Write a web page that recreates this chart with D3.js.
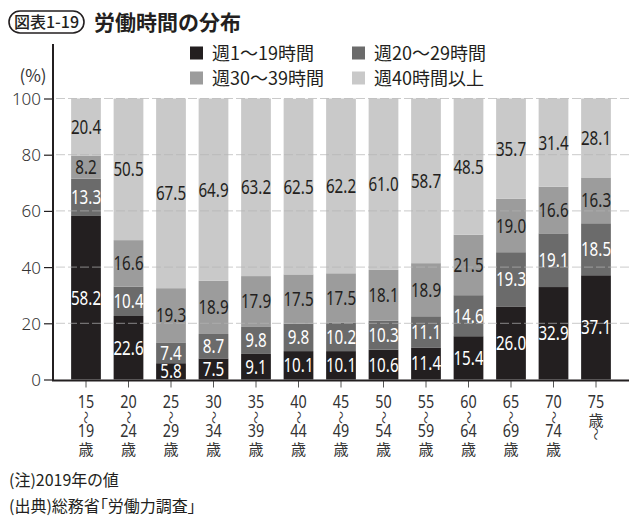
<!DOCTYPE html>
<html>
<head>
<meta charset="utf-8">
<script src="https://cdn.jsdelivr.net/npm/d3@7/dist/d3.min.js"></script>
<style>
  body { margin: 0; background: #fff; }
  svg { display: block; }
</style>
</head>
<body>
<svg width="640" height="524"></svg>
<script>
var svg = d3.select("svg");

// age groups (top line, bottom line)
var ageFrom = ["15", "20", "25", "30", "35", "40", "45", "50", "55", "60", "65", "70", "75"];
var ageTo   = ["19", "24", "29", "34", "39", "44", "49", "54", "59", "64", "69", "74", ""];

var seriesNames = ["週1〜19時間", "週20〜29時間", "週30〜39時間", "週40時間以上"];
var h1_19  = [58.2, 22.6, 5.8, 7.5, 9.1, 10.1, 10.1, 10.6, 11.4, 15.4, 26.0, 32.9, 37.1];
var h20_29 = [13.3, 10.4, 7.4, 8.7, 9.8, 9.8, 10.2, 10.3, 11.1, 14.6, 19.3, 19.1, 18.5];
var h30_39 = [8.2, 16.6, 19.3, 18.9, 17.9, 17.5, 17.5, 18.1, 18.9, 21.5, 19.0, 16.6, 16.3];
var h40    = [20.4, 50.5, 67.5, 64.9, 63.2, 62.5, 62.2, 61.0, 58.7, 48.5, 35.7, 31.4, 28.1];
var yTicks = [0, 20, 40, 60, 80, 100];

var colors = ["#231f20", "#6b6b6b", "#9c9c9c", "#c9c9c9"];
var labelColors = ["#fff", "#fff", "#231f20", "#231f20"];

var cjk = "'Noto Sans CJK JP', 'Noto Sans', sans-serif";
var num = "'Noto Sans', 'Open Sans', sans-serif";

var rows = ageFrom.map(function(a, i) {
    return { age: a, v: [h1_19[i], h20_29[i], h30_39[i], h40[i]] };
});

var x = d3.scaleBand()
    .domain(ageFrom)
    .range([64.75, 617.25])
    .paddingInner(0.3)
    .paddingOuter(0.15);
var y = d3.scaleLinear()
    .domain([0, 100])
    .range([379.5, 98.5]);

// title
svg.append("rect")
    .attr("x", 9).attr("y", 11)
    .attr("width", 75).attr("height", 22)
    .attr("rx", 11)
    .attr("fill", "none").attr("stroke", "#231f20").attr("stroke-width", 1.6);
svg.append("text")
    .attr("x", 46.5).attr("y", 28)
    .attr("text-anchor", "middle")
    .style("font-family", cjk).style("font-size", "16px").style("font-weight", 500)
    .attr("fill", "#231f20")
    .text("図表1-19");
svg.append("text")
    .attr("x", 94).attr("y", 30)
    .style("font-family", cjk).style("font-size", "21px").style("font-weight", 700)
    .attr("fill", "#231f20")
    .text("労働時間の分布");

// legend
var legendPos = [[190, 53], [352, 53], [190, 78], [352, 78]];
var legend = svg.append("g");
seriesNames.forEach(function(name, k) {
    var p = legendPos[k];
    legend.append("rect")
        .attr("x", p[0]).attr("y", p[1] - 6.5)
        .attr("width", 13).attr("height", 13)
        .attr("fill", colors[k]);
    legend.append("text")
        .attr("x", p[0] + 22).attr("y", p[1] + 6.5)
        .style("font-family", cjk).style("font-size", "18px")
        .attr("fill", "#231f20")
        .text(name);
});

svg.append("text")
    .attr("x", 33).attr("y", 82)
    .attr("text-anchor", "middle")
    .style("font-family", cjk).style("font-size", "17px")
    .attr("fill", "#333")
    .text("(%)");

// stacked bars
var stacked = rows.map(function(r) {
    var acc = 0;
    return r.v.map(function(val, k) {
        var seg = { age: r.age, k: k, y0: acc, y1: acc + val, val: val };
        acc += val;
        return seg;
    });
});
var segs = [].concat.apply([], stacked);

svg.append("g").selectAll("rect")
    .data(segs)
    .enter()
    .append("rect")
    .attr("x", function(d) { return x(d.age); })
    .attr("width", x.bandwidth())
    .attr("y", function(d) { return y(Math.min(d.y1, 100)); })
    .attr("height", function(d) { return y(d.y0) - y(Math.min(d.y1, 100)); })
    .attr("fill", function(d) { return colors[d.k]; });

// grid lines over bars
svg.append("g").selectAll("line")
    .data(yTicks.filter(function(t) { return t > 0; }))
    .enter()
    .append("line")
    .attr("x1", 56).attr("x2", 629)
    .attr("y1", function(d) { return y(d); })
    .attr("y2", function(d) { return y(d); })
    .attr("stroke", "#b4b4b4")
    .attr("stroke-opacity", 0.7)
    .attr("stroke-width", 1)
    .attr("stroke-dasharray", "9,3");

// value labels (condensed)
svg.append("g").selectAll("text")
    .data(segs)
    .enter()
    .append("text")
    .attr("transform", function(d) {
        var cx = x(d.age) + x.bandwidth() / 2;
        var cy = (y(d.y0) + y(Math.min(d.y1, 100))) / 2 + 7;
        return "translate(" + cx + "," + cy + ") scale(0.76,1)";
    })
    .attr("text-anchor", "middle")
    .style("font-family", num).style("font-size", "20px")
    .attr("fill", function(d) { return labelColors[d.k]; })
    .text(function(d) { return d.val.toFixed(1); });

// y axis
var yAxis = svg.append("g")
    .attr("transform", "translate(53,0)")
    .call(d3.axisLeft(y).tickValues(yTicks).tickSize(9).tickPadding(3));
yAxis.select(".domain").remove();
yAxis.selectAll(".tick line").attr("stroke", "#231f20").attr("stroke-width", 1.2);
yAxis.selectAll(".tick text")
    .attr("dy", "0.35em")
    .style("font-family", "'Noto Sans', 'DejaVu Sans', sans-serif")
    .style("font-size", "17px").style("font-weight", 300)
    .attr("fill", "#333");
svg.append("line")
    .attr("x1", 53).attr("x2", 53)
    .attr("y1", 44).attr("y2", y(0) + 1)
    .attr("stroke", "#231f20").attr("stroke-width", 2);

// x axis
var xAxis = svg.append("g")
    .attr("transform", "translate(0," + (y(0) + 1) + ")")
    .call(d3.axisBottom(x).tickSize(7).tickFormat(""));
xAxis.select(".domain").remove();
xAxis.selectAll(".tick line").attr("stroke", "#555").attr("stroke-width", 1);
svg.append("line")
    .attr("x1", 52).attr("x2", 629)
    .attr("y1", y(0) + 1).attr("y2", y(0) + 1)
    .attr("stroke", "#231f20").attr("stroke-width", 2);

// x labels
var xl = svg.append("g").selectAll("g")
    .data(ageFrom.map(function(a, i) { return { from: a, to: ageTo[i] }; }))
    .enter()
    .append("g")
    .attr("transform", function(d) { return "translate(" + (x(d.from) + x.bandwidth() / 2) + ",0)"; })
    .attr("fill", "#333");

function numLine(g, txt, base) {
    g.append("text")
        .attr("transform", "translate(0," + base + ") scale(0.82,1)")
        .attr("text-anchor", "middle")
        .style("font-family", num).style("font-size", "17.5px")
        .text(txt);
}
function waveLine(g, cy) {
    g.append("text")
        .attr("transform", "translate(0," + cy + ") rotate(90) scale(1,0.8)")
        .attr("text-anchor", "middle").attr("dy", "0.35em")
        .style("font-family", cjk).style("font-size", "13px")
        .text("〜");
}
function saiLine(g, base) {
    g.append("text").attr("y", base).attr("text-anchor", "middle")
        .style("font-family", cjk).style("font-size", "15px")
        .text("歳");
}
xl.each(function(d) {
    var g = d3.select(this);
    numLine(g, d.from, 408);
    if (d.to) {
        waveLine(g, 417.5);
        numLine(g, d.to, 437);
        saiLine(g, 455);
    } else {
        saiLine(g, 425.5);
        waveLine(g, 434);
    }
});

// notes
svg.append("text")
    .attr("x", 9).attr("y", 486)
    .style("font-family", cjk).style("font-size", "16px")
    .style("font-feature-settings", "'palt'")
    .attr("fill", "#231f20")
    .text("(注)2019年の値");
svg.append("text")
    .attr("x", 9).attr("y", 512)
    .style("font-family", cjk).style("font-size", "16px")
    .style("font-feature-settings", "'palt'")
    .attr("fill", "#231f20")
    .text("(出典)総務省「労働力調査」");
</script>
</body>
</html>
